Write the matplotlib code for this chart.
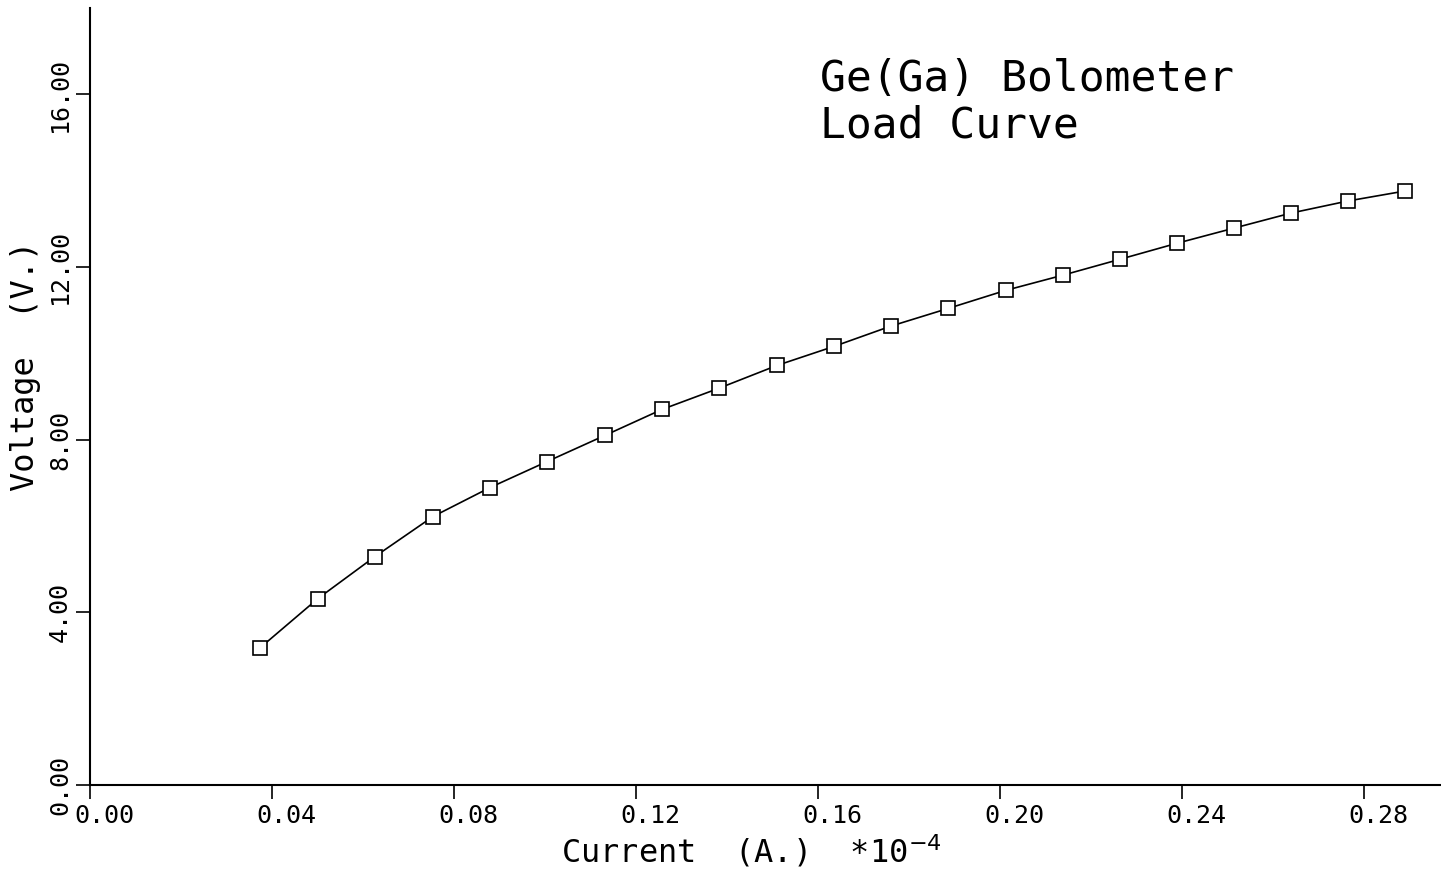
import numpy as np
import matplotlib.pyplot as plt
import matplotlib.transforms as mtransforms

# load curve data
current = [0.0374, 0.0501, 0.0626, 0.0754, 0.0879, 0.1004, 0.1132, 0.1257,
           0.1382, 0.1510, 0.1635, 0.1760, 0.1886, 0.2013, 0.2138, 0.2264,
           0.2389, 0.2514, 0.2640, 0.2765, 0.2890]
voltage = [3.18, 4.32, 5.29, 6.22, 6.89, 7.49, 8.10, 8.70, 9.19, 9.72,
           10.16, 10.63, 11.04, 11.46, 11.81, 12.18, 12.55, 12.90, 13.25,
           13.53, 13.76]

xticks = [0.00, 0.04, 0.08, 0.12, 0.16, 0.20, 0.24, 0.28]
xticklabels = ["0.00", "0.04", "0.08", "0.12", "0.16", "0.20", "0.24", "0.28"]
yticks = [0, 4, 8, 12, 16]
yticklabels = ["0.00", "4.00", "8.00", "12.00", "16.00"]

plt.rcParams['font.family'] = ['DejaVu Sans Mono']
plt.rcParams['mathtext.fontset'] = 'dejavusans'

fig = plt.figure(figsize=(14.41, 8.69), dpi=100)
ax = fig.add_axes([90/1441, 1 - 785/869, 1350/1441, 777/869])

ax.plot(current, voltage, '-', color='black', lw=1.2,
        marker='s', ms=10, mfc='white', mec='black', mew=1.2)

ax.set_xlim(0, 0.2967)
ax.set_ylim(0, 18.0)

for s in ['top', 'right']:
    ax.spines[s].set_visible(False)
ax.spines['left'].set_linewidth(1.5)
ax.spines['bottom'].set_linewidth(1.5)

ax.set_xticks(xticks)
ax.set_xticklabels(xticklabels, fontsize=18)
ax.set_yticks(yticks)
ax.set_yticklabels(yticklabels, fontsize=18, rotation=90, va='center')
ax.tick_params(axis='x', direction='out', length=10, width=1.2, pad=4)
ax.tick_params(axis='y', direction='out', length=10, width=1.2, pad=3)

# shift x tick labels a bit right, like the plotter output
off = mtransforms.ScaledTranslation(14/100, 0, fig.dpi_scale_trans)
for lab in ax.get_xticklabels():
    lab.set_transform(lab.get_transform() + off)

ax.set_xlabel("Current  (A.)  *10$^{-4}$", fontsize=23)
ax.xaxis.set_label_coords(0.49, -0.062)
ax.set_ylabel("Voltage  (V.)", fontsize=23)
ax.yaxis.set_label_coords(-0.036, 0.54)

fig.text(820/1441, 1 - 58/869, "Ge(Ga) Bolometer\nLoad Curve",
         fontsize=31, va='top', ha='left', linespacing=1.15)

fig.savefig("out.png", dpi=100)
